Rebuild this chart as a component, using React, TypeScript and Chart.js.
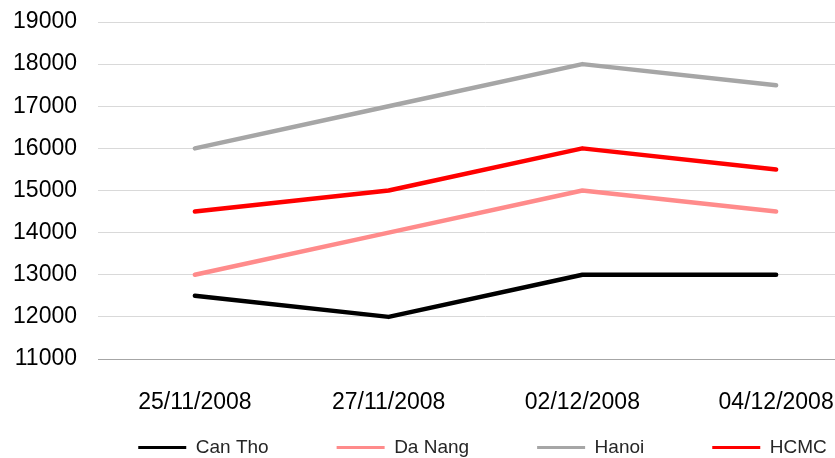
import React, { useEffect, useRef } from "react";
import { Chart, registerables } from "chart.js";

Chart.register(...registerables);

const categories = ["25/11/2008", "27/11/2008", "02/12/2008", "04/12/2008"];
const seriesNames = ["Can Tho", "Da Nang", "Hanoi", "HCMC"];
const canTho = [12500, 12000, 13000, 13000];
const daNang = [13000, 14000, 15000, 14500];
const hanoi = [16000, 17000, 18000, 17500];
const hcmc = [14500, 15000, 16000, 15500];
const seriesColors = ["#000000", "#FF8B8B", "#A6A6A6", "#FF0000"];
const yMin = 11000;
const yMax = 19000;
const yStep = 1000;

export default function App() {
  const ref = useRef<HTMLCanvasElement | null>(null);

  useEffect(() => {
    const canvas = ref.current;
    if (!canvas) return;
    const values = [canTho, daNang, hanoi, hcmc];
    const chart = new Chart(canvas, {
      type: "line",
      data: {
        labels: categories,
        datasets: values.map((v, i) => ({
          label: seriesNames[i],
          data: v,
          borderColor: seriesColors[i],
          backgroundColor: seriesColors[i],
          borderWidth: 4.5,
          borderCapStyle: "round" as const,
          borderJoinStyle: "round" as const,
          pointRadius: 0,
          tension: 0,
          fill: false,
        })),
      },
      options: {
        responsive: false,
        animation: false,
        devicePixelRatio: 1,
        layout: { padding: { top: 22, left: 0, right: 0, bottom: 0 } },
        scales: {
          x: {
            type: "category",
            offset: true,
            grid: { display: false, drawTicks: false },
            border: { display: true, color: "#A6A6A6", width: 1 },
            ticks: {
              color: "#000000",
              padding: 30,
              maxRotation: 0,
              autoSkip: false,
              font: { family: "'Liberation Sans', Arial, sans-serif", size: 23 },
            },
            afterFit: (s: any) => {
              s.height = 11;
              s._computeLabelArea = () => undefined;
            },
          },
          y: {
            type: "linear",
            min: yMin,
            max: yMax,
            grid: {
              color: "#D9D9D9",
              lineWidth: 1,
              drawTicks: true,
              tickLength: 21,
              tickColor: "rgba(0,0,0,0)",
            },
            border: { display: false },
            ticks: {
              stepSize: yStep,
              color: "#000000",
              padding: 0,
              font: { family: "'Liberation Sans', Arial, sans-serif", size: 23 },
              callback: (v: any) => String(v),
            },
            afterFit: (s: any) => {
              s.width = 98;
            },
          },
          y2: {
            type: "linear",
            position: "right",
            display: true,
            grid: { display: false, drawTicks: false },
            border: { display: false },
            ticks: { display: false },
            afterFit: (s: any) => {
              s.width = 92;
            },
          },
        },
        plugins: {
          tooltip: { enabled: false },
          legend: {
            display: true,
            position: "bottom",
            labels: {
              boxWidth: 48,
              boxHeight: 3,
              padding: 68,
              color: "#262626",
              font: { family: "'Liberation Sans', Arial, sans-serif", size: 19 },
              generateLabels: (c: any) =>
                Chart.defaults.plugins.legend.labels
                  .generateLabels(c)
                  .map((l: any) => ({ ...l, lineWidth: 0 })),
            },
          },
        },
      },
    });
    return () => chart.destroy();
  }, []);

  return (
    <div
      style={{
        position: "fixed",
        left: 0,
        top: 0,
        width: 835,
        height: 458,
        overflow: "hidden",
        background: "#ffffff",
      }}
    >
      <canvas ref={ref} width={965} height={467} style={{ display: "block" }} />
    </div>
  );
}
